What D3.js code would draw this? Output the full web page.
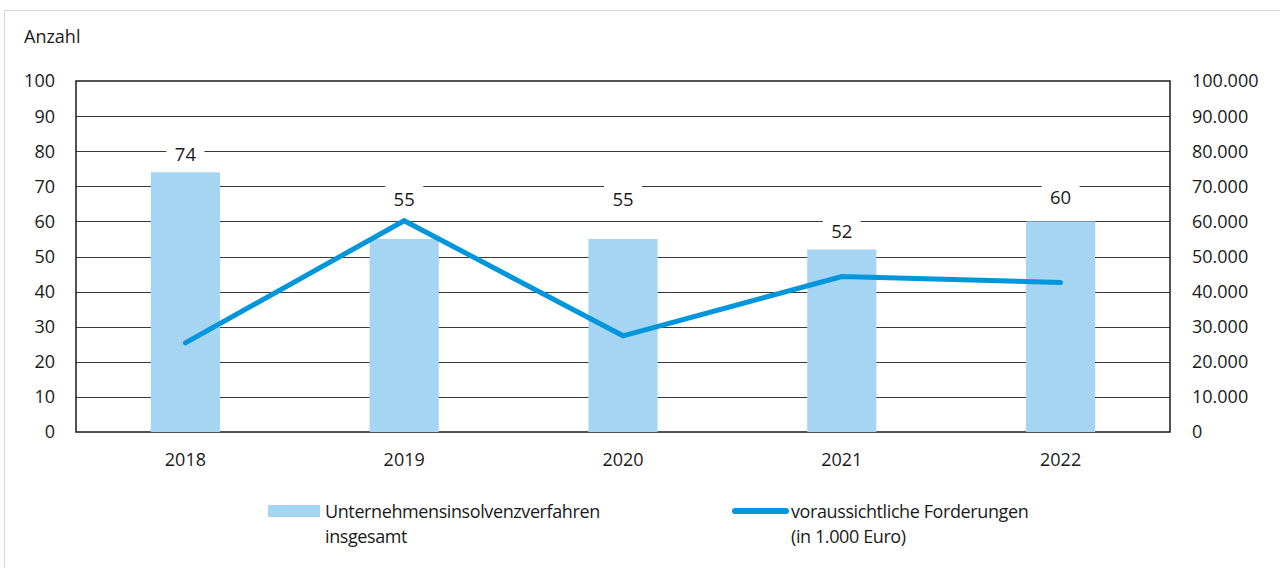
<!DOCTYPE html>
<html>
<head>
<meta charset="utf-8">
<script src="https://cdn.jsdelivr.net/npm/d3@7"></script>
<style>
  body { margin: 0; background: #fff; }
  svg text { font-family: "Open Sans", sans-serif; fill: #1a1a1a; }
</style>
</head>
<body>
<div id="chart"></div>
<script>
// data
var years = ["2018", "2019", "2020", "2021", "2022"];
var verfahren = [74, 55, 55, 52, 60];
var forderungen = [25400, 60200, 27400, 44300, 42600];
// where the value labels sit (in "Anzahl" units), they were moved by hand in the original
var labelAt = [79.1, 66.3, 66.3, 57.3, 66.8];
var leftTicks = [0, 10, 20, 30, 40, 50, 60, 70, 80, 90, 100];
var rightTicks = [0, 10000, 20000, 30000, 40000, 50000, 60000, 70000, 80000, 90000, 100000];

var W = 1280, H = 568;
var margin = {top: 81, right: 110, bottom: 136, left: 76},
    width = W - margin.left - margin.right,
    height = H - margin.top - margin.bottom;

var svg = d3.select("#chart")
  .append("svg")
    .attr("width", W)
    .attr("height", H);

// light frame round the whole graphic
svg.append("rect")
  .attr("x", 4.5).attr("y", 10.5)
  .attr("width", W + 20).attr("height", H + 20)
  .attr("fill", "none")
  .attr("stroke", "#d6d6d6");

var g = svg.append("g")
  .attr("transform", "translate(" + margin.left + "," + margin.top + ")");

var x = d3.scaleBand()
  .domain(years)
  .range([0, width])
  .padding(0);

var y = d3.scaleLinear()
  .domain([0, 100])
  .range([height, 0]);

var y2 = d3.scaleLinear()
  .domain([0, 100000])
  .range([height, 0]);

var fmt = function(d) { return d3.format(",")(d).replace(/,/g, "."); };

// gridlines
g.selectAll(".grid")
  .data(leftTicks.slice(1, -1))
  .enter()
  .append("line")
    .attr("x1", 0).attr("x2", width)
    .attr("y1", function(d) { return Math.round(y(d)) + 0.5; })
    .attr("y2", function(d) { return Math.round(y(d)) + 0.5; })
    .attr("stroke", "#3a3a3a")
    .attr("stroke-width", 1);

// frame of plot area
g.append("rect")
  .attr("x", 0).attr("y", 0)
  .attr("width", width).attr("height", height)
  .attr("fill", "none")
  .attr("stroke", "#1a1a1a")
  .attr("stroke-width", 1.5);

// left axis labels
g.selectAll(".lt")
  .data(leftTicks)
  .enter()
  .append("text")
    .attr("x", -21)
    .attr("y", function(d) { return y(d); })
    .attr("dy", "0.36em")
    .attr("text-anchor", "end")
    .style("font-size", "18px")
    .text(function(d) { return d; });

// right axis labels
g.selectAll(".rt")
  .data(rightTicks)
  .enter()
  .append("text")
    .attr("x", width + 22)
    .attr("y", function(d) { return y2(d); })
    .attr("dy", "0.36em")
    .attr("text-anchor", "start")
    .style("font-size", "18px")
    .text(function(d) { return fmt(d); });

// x labels
g.selectAll(".xt")
  .data(years)
  .enter()
  .append("text")
    .attr("x", function(d) { return x(d) + x.bandwidth() / 2; })
    .attr("y", height + 34)
    .attr("text-anchor", "middle")
    .style("font-size", "18px")
    .text(function(d) { return d; });

svg.append("text")
  .attr("x", 24).attr("y", 43)
  .style("font-size", "18px")
  .text("Anzahl");

// bars
var barW = x.bandwidth() * 0.316;
g.selectAll(".bar")
  .data(verfahren)
  .enter()
  .append("rect")
    .attr("x", function(d, i) { return x(years[i]) + x.bandwidth() / 2 - barW / 2; })
    .attr("y", function(d) { return y(d); })
    .attr("width", barW)
    .attr("height", function(d) { return height - y(d); })
    .attr("fill", "#a5d5f3");

// value labels with white box behind (cuts the gridlines)
var lab = g.selectAll(".lab")
  .data(verfahren)
  .enter()
  .append("g")
    .attr("transform", function(d, i) {
      return "translate(" + (x(years[i]) + x.bandwidth() / 2) + "," + y(labelAt[i]) + ")";
    });
lab.append("rect")
  .attr("x", -19).attr("y", -14)
  .attr("width", 38).attr("height", 28)
  .attr("fill", "#fff");
lab.append("text")
  .attr("text-anchor", "middle")
  .attr("dy", "0.36em")
  .style("font-size", "18.5px")
  .text(function(d) { return d; });

// line on the right axis
var line = d3.line()
  .x(function(d, i) { return x(years[i]) + x.bandwidth() / 2; })
  .y(function(d) { return y2(d); });

g.append("path")
  .datum(forderungen)
  .attr("d", line)
  .attr("fill", "none")
  .attr("stroke", "#0096db")
  .attr("stroke-width", 5)
  .attr("stroke-linejoin", "miter")
  .attr("stroke-linecap", "round");

// legend
var leg = svg.append("g")
  .style("font-size", "18px")
  .style("letter-spacing", "-0.4px");
leg.append("rect")
  .attr("x", 268).attr("y", 505)
  .attr("width", 52).attr("height", 12)
  .attr("fill", "#a5d5f3");
leg.append("text")
  .attr("x", 325).attr("y", 518)
  .text("Unternehmensinsolvenzverfahren");
leg.append("text")
  .attr("x", 325).attr("y", 543)
  .text("insgesamt");

leg.append("line")
  .attr("x1", 735).attr("x2", 786)
  .attr("y1", 511).attr("y2", 511)
  .attr("stroke", "#0096db")
  .attr("stroke-width", 6)
  .attr("stroke-linecap", "round");
leg.append("text")
  .attr("x", 791).attr("y", 518)
  .text("voraussichtliche Forderungen");
leg.append("text")
  .attr("x", 791).attr("y", 543)
  .text("(in 1.000 Euro)");
</script>
</body>
</html>
